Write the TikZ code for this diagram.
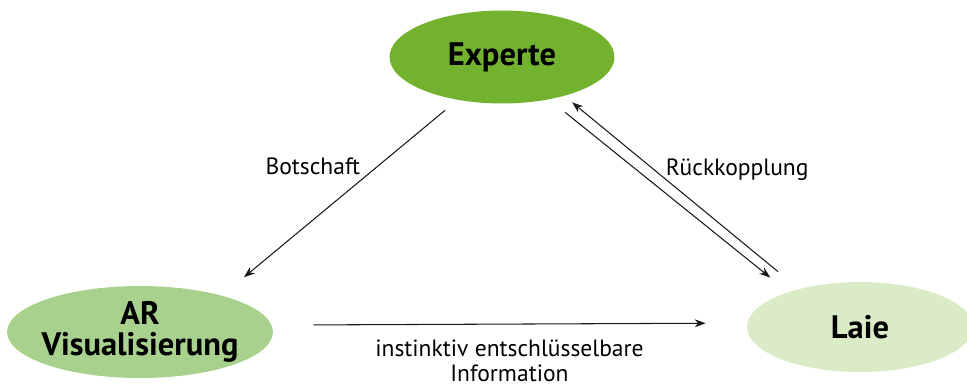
\documentclass[tikz,border=0pt]{standalone}
\usepackage{fontspec}
\setmainfont{PT Sans}
\usetikzlibrary{arrows.meta, shapes.geometric}
\definecolor{expertgreen}{HTML}{72B22F}
\definecolor{argreen}{HTML}{A9D18E}
\definecolor{laiegreen}{HTML}{DAEBC7}

\begin{document}
\begin{tikzpicture}[
    x=0.02cm, y=-0.02cm,
    role/.style={
        ellipse,
        inner xsep=-0.3cm,
        inner ysep=-0.1cm,
        align=center,
        font=\fontsize{18.5}{17.6}\selectfont\bfseries
    },
    arrow/.style={
        -{Stealth[length=2.2mm, width=1.6mm]},
        line width=0.6pt,
        draw=black!90
    },
    lbl/.style={
        font=\fontsize{13.4}{14.4}\selectfont,
        align=center
    }
]
\useasboundingbox (0,0) rectangle (967,386);

% Nodes
\node (experte) [role, fill=expertgreen, minimum width=4.5cm, minimum height=1.86cm] at (502,57) {Experte};
\node (ar) [role, fill=argreen, minimum width=5.32cm, minimum height=1.84cm] at (140,332) {AR\\Visualisierung};
\node (laie) [role, fill=laiegreen, minimum width=4.52cm, minimum height=1.8cm] at (860,327) {Laie};

% Paths
\draw [arrow, shorten <=0.32cm, shorten >=0.57cm] (experte.224.5) -- node[lbl, pos=0.4, above left, inner sep=1.5pt] {Botschaft} (ar.24.8);
\draw [arrow, shorten <=0.54cm, shorten >=0.2cm] (laie.148.8) -- node[lbl, pos=0.62, right, xshift=0.12cm] {Rückkopplung} (experte.328.6);
\draw [arrow, shorten <=0.41cm, shorten >=0.46cm] (experte.318.8) -- (laie.154.4);
\draw [arrow, shorten <=0.83cm, shorten >=0.83cm] (ar.3.9) -- node[lbl, below=0.28cm, inner sep=0.5pt] {instinktiv entschlüsselbare\\Information} (laie.178);

\end{tikzpicture}
\end{document}
